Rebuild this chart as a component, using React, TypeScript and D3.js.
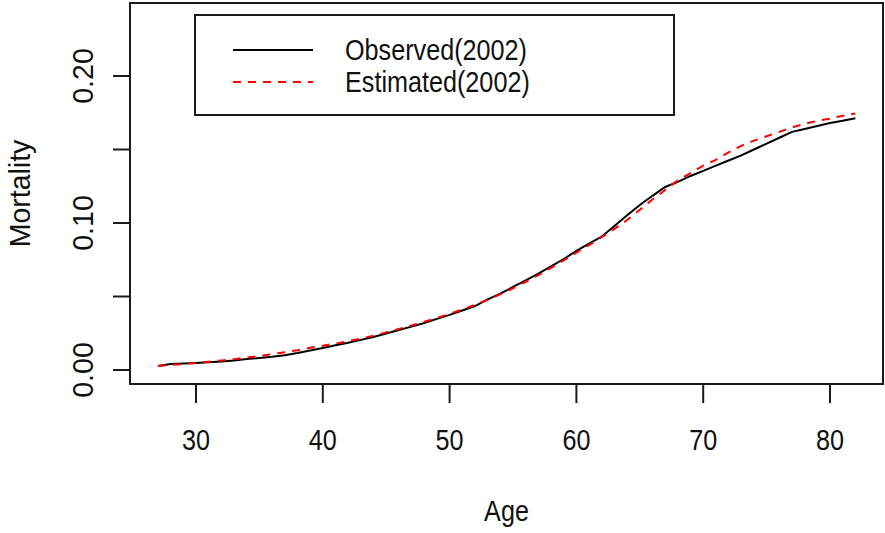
import { useEffect, useRef } from "react";
import * as d3 from "d3";

// ages 27..82, one value per age
const ages = [
  27, 28, 29, 30, 31, 32, 33, 34, 35, 36, 37, 38, 39, 40, 41, 42, 43, 44, 45,
  46, 47, 48, 49, 50, 51, 52, 53, 54, 55, 56, 57, 58, 59, 60, 61, 62, 63, 64,
  65, 66, 67, 68, 69, 70, 71, 72, 73, 74, 75, 76, 77, 78, 79, 80, 81, 82,
];

const observed = [
  0.0027, 0.004, 0.0044, 0.0048, 0.0052, 0.0058, 0.0065, 0.0075, 0.0082,
  0.009, 0.01, 0.0115, 0.0132, 0.015, 0.0168, 0.0185, 0.0205, 0.0225, 0.0248,
  0.0272, 0.0295, 0.032, 0.0348, 0.0375, 0.0405, 0.0435, 0.048, 0.052, 0.0565,
  0.061, 0.0655, 0.0705, 0.0755, 0.081, 0.086, 0.0908, 0.098, 0.1052, 0.1122,
  0.1185, 0.1245, 0.128, 0.132, 0.1355, 0.139, 0.1425, 0.146, 0.15, 0.154,
  0.158, 0.162, 0.164, 0.166, 0.168, 0.1695, 0.1712,
];

const estimated = [
  0.0028, 0.0034, 0.0041, 0.0048, 0.0056, 0.0065, 0.0074, 0.0085, 0.0096,
  0.0108, 0.0121, 0.0135, 0.0151, 0.0165, 0.018, 0.0196, 0.0214, 0.0234,
  0.0256, 0.028, 0.0303, 0.0328, 0.0354, 0.0382, 0.0412, 0.0443, 0.0477,
  0.0515, 0.0556, 0.06, 0.0646, 0.0695, 0.0746, 0.0798, 0.085, 0.0903, 0.096,
  0.102, 0.109, 0.116, 0.1225, 0.129, 0.134, 0.139, 0.143, 0.148, 0.1525,
  0.156, 0.159, 0.162, 0.165, 0.1675, 0.1695, 0.171, 0.173, 0.1745,
];

const xTicks = [30, 40, 50, 60, 70, 80];
const yTicks = [0, 0.05, 0.1, 0.15, 0.2];
const yTickLabels = ["0.00", "", "0.10", "", "0.20"];
const seriesNames = ["Observed(2002)", "Estimated(2002)"];
const seriesColors = ["#000000", "#ff0000"];
const seriesDash = ["none", "8,7"];

const width = 885;
const height = 533;
const box = { left: 130, right: 883, top: 3, bottom: 384 };
const font = "'Liberation Sans', Arial, sans-serif";
// the original text is a narrow face; squeeze regular Liberation Sans to match
const narrow = 0.84;
const upright = 0.95;

export default function App() {
  const ref = useRef<SVGSVGElement>(null);

  useEffect(() => {
    const svg = d3.select(ref.current);
    svg.selectAll("*").remove();

    const x = d3.scaleLinear().domain([30, 80]).range([196, 830]);
    const y = d3.scaleLinear().domain([0, 0.2]).range([370, 76]);

    const label = (g, tx, ty, rot, sx, txt, anchor = "middle") =>
      g
        .append("text")
        .attr("transform", `translate(${tx},${ty}) rotate(${rot}) scale(${sx},1)`)
        .attr("text-anchor", anchor)
        .attr("font-family", font)
        .attr("font-size", 30)
        .attr("fill", "#111")
        .text(txt);

    // plot frame
    svg
      .append("rect")
      .attr("x", box.left)
      .attr("y", box.top)
      .attr("width", box.right - box.left)
      .attr("height", box.bottom - box.top)
      .attr("fill", "none")
      .attr("stroke", "#1a1a1a")
      .attr("stroke-width", 2);

    // x axis
    const gx = svg.append("g");
    gx.selectAll("line")
      .data(xTicks)
      .join("line")
      .attr("x1", (d) => x(d))
      .attr("x2", (d) => x(d))
      .attr("y1", box.bottom)
      .attr("y2", box.bottom + 19)
      .attr("stroke", "#1a1a1a")
      .attr("stroke-width", 2);
    xTicks.forEach((d) => label(gx, x(d), 450, 0, narrow, d));

    // y axis
    const gy = svg.append("g");
    gy.selectAll("line")
      .data(yTicks)
      .join("line")
      .attr("x1", box.left - 17)
      .attr("x2", box.left)
      .attr("y1", (d) => y(d))
      .attr("y2", (d) => y(d))
      .attr("stroke", "#1a1a1a")
      .attr("stroke-width", 2);
    yTicks.forEach((d, i) => {
      if (yTickLabels[i]) label(gy, 93, y(d), -90, upright, yTickLabels[i]);
    });

    // axis titles
    label(svg, (box.left + box.right) / 2, 521, 0, narrow, "Age");
    label(svg, 30, (box.top + box.bottom) / 2, -90, upright, "Mortality");

    // series
    const line = d3
      .line<number>()
      .x((_, i) => x(ages[i]))
      .y((d) => y(d));

    [observed, estimated].forEach((values, s) => {
      svg
        .append("path")
        .datum(values)
        .attr("d", line)
        .attr("fill", "none")
        .attr("stroke", seriesColors[s])
        .attr("stroke-width", 2)
        .attr("stroke-dasharray", seriesDash[s]);
    });

    // legend
    const lg = svg.append("g");
    lg.append("rect")
      .attr("x", 195)
      .attr("y", 15)
      .attr("width", 479)
      .attr("height", 100)
      .attr("fill", "white")
      .attr("stroke", "#1a1a1a")
      .attr("stroke-width", 2);
    seriesNames.forEach((name, i) => {
      const ly = 50 + i * 32;
      lg.append("line")
        .attr("x1", 233)
        .attr("x2", 313)
        .attr("y1", ly)
        .attr("y2", ly)
        .attr("stroke", seriesColors[i])
        .attr("stroke-width", 2)
        .attr("stroke-dasharray", seriesDash[i]);
      label(lg, 345, ly + 10, 0, narrow, name, "start");
    });
  }, []);

  return (
    <svg
      ref={ref}
      width={width}
      height={height}
      style={{ position: "absolute", left: 0, top: 0, background: "white" }}
    />
  );
}
